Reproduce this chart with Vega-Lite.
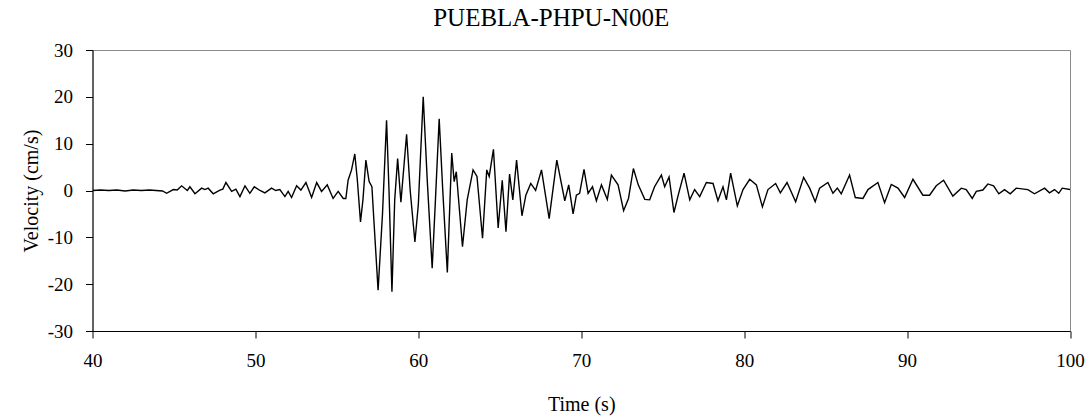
{
  "$schema": "https://vega.github.io/schema/vega-lite/v6.json",
  "width": 977.5,
  "height": 281,
  "autosize": {"type": "none"},
  "padding": {"left": 92.5, "top": 50, "right": 20, "bottom": 88},
  "background": "white",
  "title": {
    "text": "PUEBLA-PHPU-N00E",
    "font": "Liberation Serif",
    "fontSize": 25,
    "fontWeight": "normal",
    "color": "black",
    "anchor": "middle",
    "frame": "group",
    "dx": -30,
    "offset": 10
  },
  "config": {
    "view": {"stroke": "#8a8a8a", "strokeWidth": 1},
    "axis": {
      "labelFont": "Liberation Serif",
      "titleFont": "Liberation Serif",
      "labelColor": "black",
      "titleColor": "black",
      "titleFontWeight": "normal",
      "domainColor": "black",
      "tickColor": "black",
      "grid": false,
      "labelExpr": "replace(datum.label, '\u2212', '-')"
    }
  },
  "data": {
    "values": [
      {"t": 40.0, "v": 0}, {"t": 40.5, "v": 0.1}, {"t": 41.0, "v": 0}, {"t": 41.5, "v": 0.1},
      {"t": 42.0, "v": -0.1}, {"t": 42.5, "v": 0.1}, {"t": 43.0, "v": 0}, {"t": 43.5, "v": 0.1},
      {"t": 43.9, "v": 0}, {"t": 44.3, "v": -0.1}, {"t": 44.55, "v": -0.6}, {"t": 44.96, "v": 0.2},
      {"t": 45.2, "v": 0.1}, {"t": 45.47, "v": 1}, {"t": 45.82, "v": 0}, {"t": 45.98, "v": 0.8},
      {"t": 46.29, "v": -0.7}, {"t": 46.7, "v": 0.5}, {"t": 46.9, "v": 0.2}, {"t": 47.1, "v": 0.5},
      {"t": 47.41, "v": -0.7}, {"t": 47.82, "v": 0.1}, {"t": 48.0, "v": 0.3}, {"t": 48.19, "v": 1.7},
      {"t": 48.54, "v": -0.2}, {"t": 48.8, "v": 0.3}, {"t": 49.05, "v": -1.3}, {"t": 49.36, "v": 1},
      {"t": 49.66, "v": -0.6}, {"t": 49.93, "v": 0.8}, {"t": 50.28, "v": 0}, {"t": 50.58, "v": -0.5},
      {"t": 50.99, "v": 0.5}, {"t": 51.25, "v": 0}, {"t": 51.5, "v": 0.2}, {"t": 51.81, "v": -1.3},
      {"t": 52.01, "v": -0.2}, {"t": 52.22, "v": -1.5}, {"t": 52.53, "v": 1}, {"t": 52.79, "v": 0.1},
      {"t": 53.1, "v": 1.7}, {"t": 53.45, "v": -1.5}, {"t": 53.76, "v": 1.7}, {"t": 54.06, "v": -0.2},
      {"t": 54.41, "v": 1.2}, {"t": 54.77, "v": -1.7}, {"t": 55.08, "v": -0.2}, {"t": 55.39, "v": -1.7},
      {"t": 55.55, "v": -1.7}, {"t": 55.69, "v": 2.2}, {"t": 55.9, "v": 4.4}, {"t": 56.1, "v": 7.8},
      {"t": 56.25, "v": 2.5}, {"t": 56.45, "v": -6.7}, {"t": 56.6, "v": -2}, {"t": 56.78, "v": 6.5},
      {"t": 56.98, "v": 1.9}, {"t": 57.15, "v": 0.8}, {"t": 57.3, "v": -8}, {"t": 57.53, "v": -21.3},
      {"t": 57.8, "v": -5}, {"t": 58.05, "v": 15}, {"t": 58.2, "v": 0}, {"t": 58.38, "v": -21.6},
      {"t": 58.55, "v": -2}, {"t": 58.73, "v": 6.8}, {"t": 58.93, "v": -2.5}, {"t": 59.28, "v": 12},
      {"t": 59.5, "v": 0}, {"t": 59.79, "v": -11}, {"t": 60.0, "v": -3}, {"t": 60.3, "v": 20},
      {"t": 60.55, "v": 2}, {"t": 60.85, "v": -16.6}, {"t": 61.05, "v": -2}, {"t": 61.28, "v": 15.3},
      {"t": 61.5, "v": 0}, {"t": 61.78, "v": -17.5}, {"t": 62.05, "v": 8}, {"t": 62.2, "v": 1.9},
      {"t": 62.33, "v": 4}, {"t": 62.71, "v": -12}, {"t": 63.0, "v": -2}, {"t": 63.36, "v": 4.4},
      {"t": 63.6, "v": 3}, {"t": 63.94, "v": -10.2}, {"t": 64.2, "v": 4.4}, {"t": 64.35, "v": 3},
      {"t": 64.61, "v": 8.8}, {"t": 64.9, "v": -8}, {"t": 65.15, "v": 2.2}, {"t": 65.38, "v": -8.8},
      {"t": 65.6, "v": 3.5}, {"t": 65.8, "v": -2}, {"t": 66.03, "v": 6.5}, {"t": 66.36, "v": -5.4},
      {"t": 66.6, "v": -1}, {"t": 66.9, "v": 1.5}, {"t": 67.2, "v": 0}, {"t": 67.56, "v": 4.4},
      {"t": 68.03, "v": -6}, {"t": 68.5, "v": 6.5}, {"t": 68.99, "v": -2.2}, {"t": 69.23, "v": 1.2},
      {"t": 69.5, "v": -5}, {"t": 69.7, "v": -1}, {"t": 69.9, "v": -0.6}, {"t": 70.17, "v": 4.5},
      {"t": 70.42, "v": -0.6}, {"t": 70.69, "v": 0.8}, {"t": 70.93, "v": -2.2}, {"t": 71.24, "v": 1.2},
      {"t": 71.6, "v": -1.9}, {"t": 71.85, "v": 3.3}, {"t": 72.26, "v": 1.2}, {"t": 72.6, "v": -4.3},
      {"t": 72.9, "v": -1.7}, {"t": 73.2, "v": 4.7}, {"t": 73.5, "v": 1.2}, {"t": 73.9, "v": -1.9},
      {"t": 74.2, "v": -2}, {"t": 74.5, "v": 0.8}, {"t": 74.92, "v": 3.3}, {"t": 75.12, "v": 0.8},
      {"t": 75.39, "v": 2.9}, {"t": 75.69, "v": -4.7}, {"t": 75.98, "v": -0.6}, {"t": 76.31, "v": 3.7},
      {"t": 76.66, "v": -2}, {"t": 76.96, "v": 0.2}, {"t": 77.27, "v": -1.3}, {"t": 77.68, "v": 1.7},
      {"t": 78.09, "v": 1.5}, {"t": 78.39, "v": -2.2}, {"t": 78.7, "v": 0.8}, {"t": 78.91, "v": -2},
      {"t": 79.17, "v": 3.7}, {"t": 79.58, "v": -3.3}, {"t": 79.93, "v": 0.2}, {"t": 80.34, "v": 2.4},
      {"t": 80.75, "v": 1.2}, {"t": 81.12, "v": -3.5}, {"t": 81.46, "v": 0.2}, {"t": 81.93, "v": 1.5},
      {"t": 82.22, "v": -0.5}, {"t": 82.63, "v": 1.7}, {"t": 83.16, "v": -2.4}, {"t": 83.65, "v": 2.8},
      {"t": 84.02, "v": 0.5}, {"t": 84.36, "v": -2.4}, {"t": 84.63, "v": 0.5}, {"t": 85.14, "v": 1.7},
      {"t": 85.45, "v": -0.6}, {"t": 85.72, "v": 0.5}, {"t": 85.96, "v": -0.7}, {"t": 86.47, "v": 3.3},
      {"t": 86.82, "v": -1.5}, {"t": 87.29, "v": -1.7}, {"t": 87.6, "v": 0.2}, {"t": 88.21, "v": 1.7},
      {"t": 88.62, "v": -2.6}, {"t": 89.03, "v": 1.3}, {"t": 89.44, "v": 0.5}, {"t": 89.85, "v": -1.5},
      {"t": 90.36, "v": 2.4}, {"t": 90.97, "v": -1}, {"t": 91.38, "v": -1}, {"t": 91.79, "v": 1},
      {"t": 92.24, "v": 2.2}, {"t": 92.81, "v": -1.2}, {"t": 93.33, "v": 0.5}, {"t": 93.63, "v": 0.2},
      {"t": 94.0, "v": -1.7}, {"t": 94.25, "v": -0.2}, {"t": 94.65, "v": 0.1}, {"t": 94.96, "v": 1.4},
      {"t": 95.31, "v": 1}, {"t": 95.63, "v": -0.7}, {"t": 95.98, "v": 0.2}, {"t": 96.33, "v": -0.7},
      {"t": 96.7, "v": 0.5}, {"t": 97.41, "v": 0.2}, {"t": 97.82, "v": -0.7}, {"t": 98.44, "v": 0.5},
      {"t": 98.74, "v": -0.5}, {"t": 99.05, "v": 0.2}, {"t": 99.31, "v": -0.6}, {"t": 99.52, "v": 0.5},
      {"t": 100.0, "v": 0.2}
    ]
  },
  "mark": {"type": "line", "color": "black", "strokeWidth": 1.4, "interpolate": "linear", "clip": true},
  "encoding": {
    "x": {
      "field": "t",
      "type": "quantitative",
      "scale": {"domain": [40, 100], "nice": false, "zero": false},
      "axis": {
        "title": "Time (s)",
        "values": [40, 50, 60, 70, 80, 90, 100],
        "tickSize": 7,
        "labelPadding": 13,
        "labelFontSize": 19,
        "titleFontSize": 20,
        "titlePadding": 24,
        "labelFlush": false
      }
    },
    "y": {
      "field": "v",
      "type": "quantitative",
      "scale": {"domain": [-30, 30], "nice": false},
      "axis": {
        "title": "Velocity (cm/s)",
        "values": [-30, -20, -10, 0, 10, 20, 30],
        "tickSize": 7,
        "labelPadding": 13,
        "labelFontSize": 19,
        "titleFontSize": 20,
        "titlePadding": 6
      }
    }
  }
}
